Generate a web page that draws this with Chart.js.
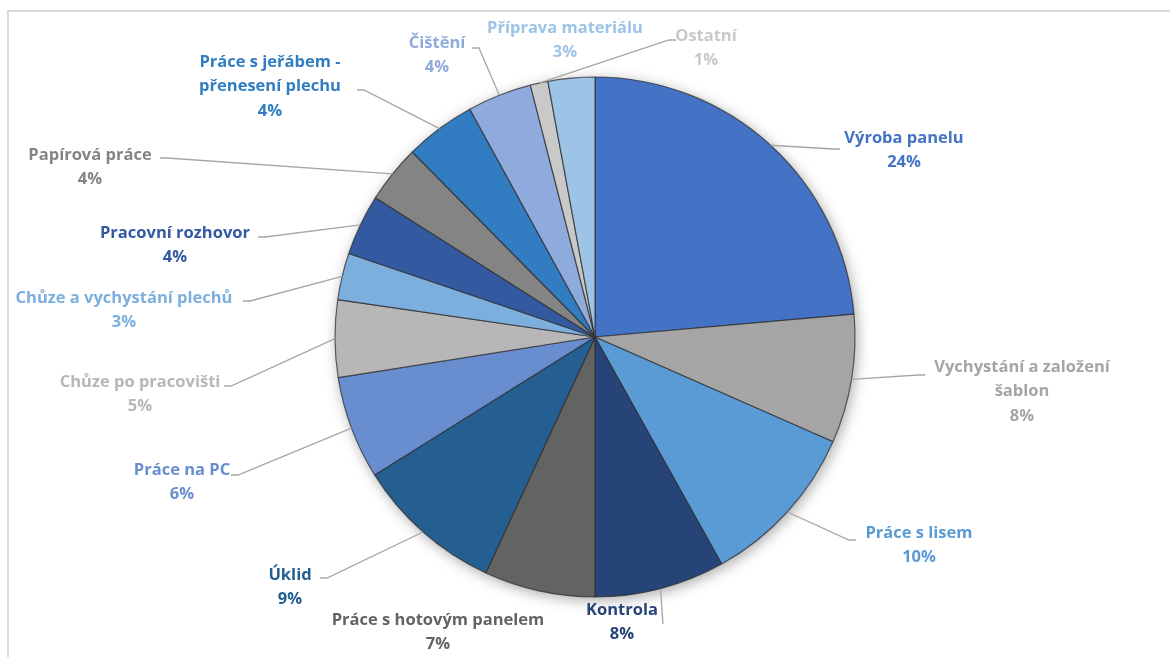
<!DOCTYPE html>
<html>
<head>
<meta charset="utf-8">
<script src="https://cdn.jsdelivr.net/npm/chart.js@4.4.1/dist/chart.umd.min.js"></script>
<style>
  body { margin: 0; background: #fff; }
  #wrap { position: relative; width: 1170px; height: 657px; overflow: hidden; }
  #frame { position: absolute; left: 7px; top: 10px; width: 2000px; height: 2000px;
           border-left: 2px solid #d9d9d9; border-top: 2px solid #d9d9d9; }
  canvas { position: absolute; left: 0; top: 0; }
</style>
</head>
<body>
<div id="wrap">
  <div id="frame"></div>
  <canvas id="chart" width="1170" height="657"></canvas>
</div>
<script>
// ================= DATA =================
const categories = [
  "Výroba panelu",
  "Vychystání a založení\nšablon",
  "Práce s lisem",
  "Kontrola",
  "Práce s hotovým panelem",
  "Úklid",
  "Práce na PC",
  "Chůze po pracovišti",
  "Chůze a vychystání plechů",
  "Pracovní rozhovor",
  "Papírová práce",
  "Práce s jeřábem -\npřenesení plechu",
  "Čištění",
  "Ostatní",
  "Příprava materiálu"
];
const shares = [23.6, 8.0, 10.3, 8.1, 6.9, 9.2, 6.4, 4.8, 2.9, 3.8, 3.6, 4.4, 4.0, 1.1, 2.9];

const colors = [
  "#4472C4", "#A5A5A5", "#5B9BD5", "#264478", "#636363",
  "#255E91", "#698ED0", "#B7B7B7", "#7CAFDD", "#335AA1",
  "#848484", "#327DC2", "#8FAADC", "#C9C9C9", "#9DC3E6"
];

// label placement, offsets from pie centre (text centre x, first line y, elbow x/y, side)
const labelLayout = [
  { tx: 309, ty: -199, ex: 238, ey: -188, dir: 1 },
  { tx: 427, ty: 30, ex: 323, ey: 38, dir: 1 },
  { tx: 324, ty: 196, ex: 254, ey: 203, dir: 1 },
  { tx: 27, ty: 273, ex: 68, ey: 287, dir: 0 },
  { tx: -157, ty: 283, ex: null },
  { tx: -305, ty: 238, ex: -268, ey: 241, dir: -1 },
  { tx: -413, ty: 133, ex: -357, ey: 138, dir: -1 },
  { tx: -455, ty: 45, ex: -364, ey: 49, dir: -1 },
  { tx: -471, ty: -39, ex: -345, ey: -36, dir: -1 },
  { tx: -420, ty: -104, ex: -330, ey: -100, dir: -1 },
  { tx: -505, ty: -182, ex: -428, ey: -179, dir: -1 },
  { tx: -325, ty: -275, ex: -231, ey: -247, dir: -1 },
  { tx: -158, ty: -294, ex: -116, ey: -289, dir: -1 },
  { tx: 111, ty: -301, ex: 74, ey: -297, dir: 1 },
  { tx: -30, ty: -309, ex: null }
];

const FONT = "700 16.5px 'Open Sans', sans-serif";
const LINE_H = 24.5;

// soft shadow behind the pie
const pieShadow = {
  id: "pieShadow",
  beforeDatasetsDraw(chart) {
    const arc = chart.getDatasetMeta(0).data[0];
    if (!arc) return;
    const ctx = chart.ctx;
    ctx.save();
    ctx.shadowColor = "rgba(0,0,0,0.35)";
    ctx.shadowBlur = 14;
    ctx.shadowOffsetX = 2;
    ctx.shadowOffsetY = 3;
    ctx.fillStyle = "#ffffff";
    ctx.beginPath();
    ctx.arc(arc.x, arc.y, arc.outerRadius, 0, Math.PI * 2);
    ctx.fill();
    ctx.restore();
  }
};

// outside labels with leader lines
const outsideLabels = {
  id: "outsideLabels",
  afterDatasetsDraw(chart) {
    const ctx = chart.ctx;
    const meta = chart.getDatasetMeta(0);
    const data = chart.data.datasets[0].data;
    const total = data.reduce((a, b) => a + b, 0);

    meta.data.forEach((arc, i) => {
      const lay = labelLayout[i];
      const cx = arc.x, cy = arc.y;
      const mid = (arc.startAngle + arc.endAngle) / 2;
      const px = cx + Math.cos(mid) * arc.outerRadius;
      const py = cy + Math.sin(mid) * arc.outerRadius;

      // leader line
      if (lay.ex !== null) {
        const ex = cx + lay.ex, ey = cy + lay.ey;
        ctx.save();
        ctx.strokeStyle = "#a6a6a6";
        ctx.lineWidth = 1.3;
        ctx.beginPath();
        ctx.moveTo(px, py);
        ctx.lineTo(ex, ey);
        ctx.lineTo(ex + lay.dir * 7, ey);
        ctx.stroke();
        ctx.restore();
      }

      // text
      const pct = Math.round(data[i] / total * 100) + "%";
      const lines = chart.data.labels[i].split("\n").concat([pct]);
      ctx.save();
      ctx.font = FONT;
      ctx.fillStyle = colors[i];
      ctx.textAlign = "center";
      ctx.textBaseline = "middle";
      lines.forEach((ln, k) => {
        ctx.fillText(ln, cx + lay.tx, cy + lay.ty + k * LINE_H);
      });
      ctx.restore();
    });
  }
};

// ================= CREATE CHART =================
const ctx = document.getElementById("chart").getContext("2d");
new Chart(ctx, {
  type: "pie",
  data: {
    labels: categories,
    datasets: [
      {
        data: shares,
        backgroundColor: colors,
        borderColor: "rgba(45,45,45,0.75)",
        borderWidth: 1.2,
        radius: 260
      }
    ]
  },
  options: {
    responsive: false,
    animation: false,
    layout: {
      padding: { left: 330, right: 310, top: 77, bottom: 60 }
    },
    plugins: {
      legend: { display: false },
      tooltip: { enabled: false }
    }
  },
  plugins: [pieShadow, outsideLabels]
});
</script>
</body>
</html>
